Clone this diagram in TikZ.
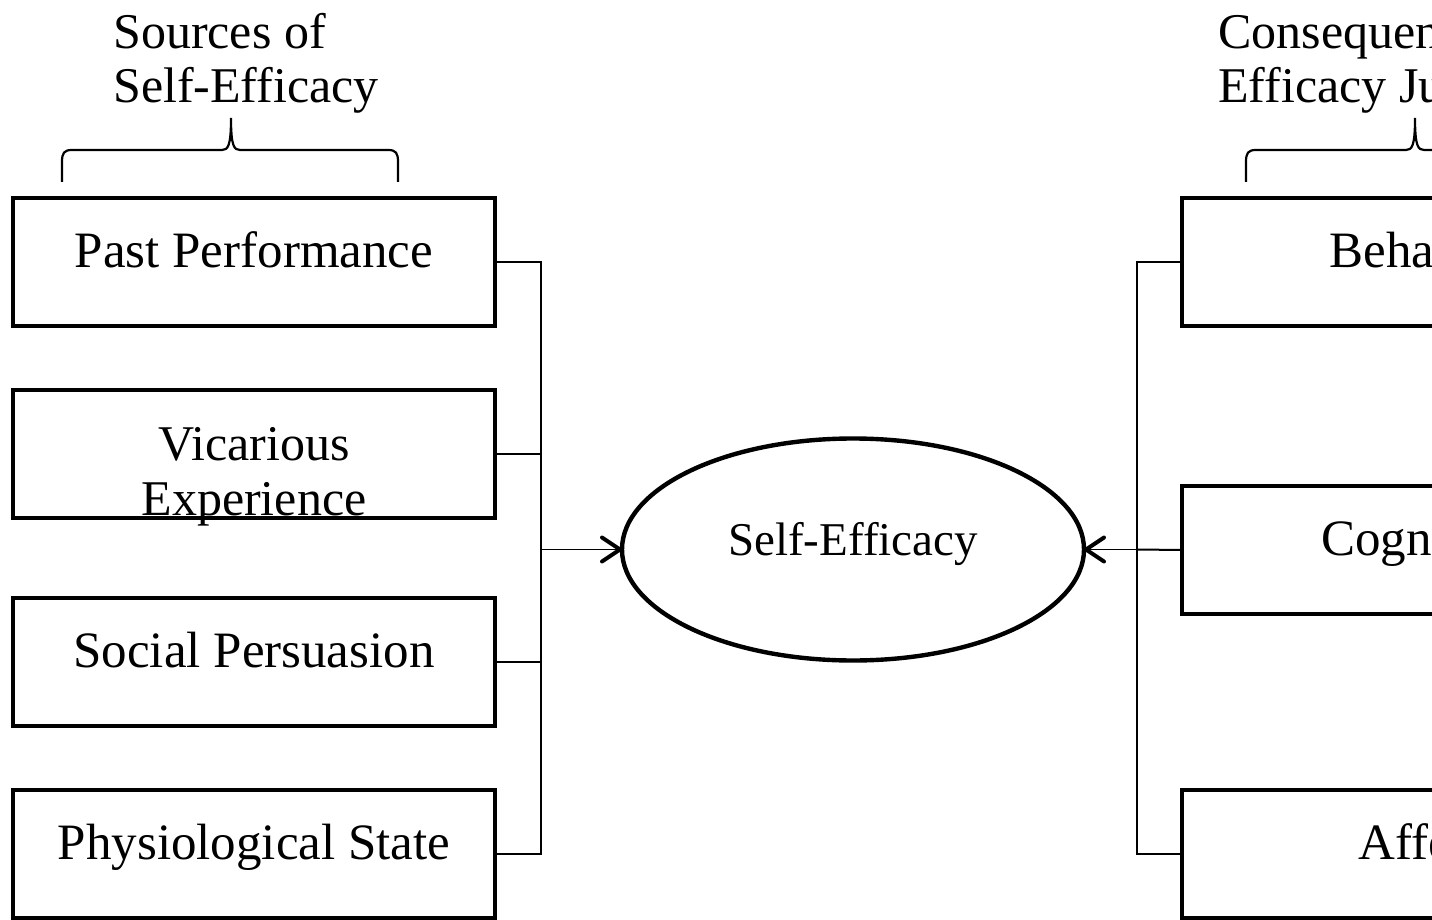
\documentclass[tikz,border=0pt]{standalone}
\usepackage{fontspec}
\setmainfont{Liberation Serif}
\usetikzlibrary{shapes.geometric,arrows.meta}
\begin{document}
\begin{tikzpicture}[x=1pt,y=-1pt,
  box/.style={draw, rectangle, line width=4.6pt, minimum width=482pt, minimum height=128pt,
    inner sep=0pt, outer sep=0pt, font=\fontsize{51}{55}\selectfont, text height=14pt, text depth=4pt},
  boxtext/.style={inner sep=0pt, align=center, font=\fontsize{50}{55}\selectfont},
  title/.style={inner sep=0pt, align=left, font=\fontsize{50}{54}\selectfont},
  centre/.style={draw, ellipse, line width=4.4pt, minimum width=462pt, minimum height=222pt,
    inner sep=0pt, outer sep=0pt, font=\fontsize{47}{52}\selectfont, text height=15pt, text depth=4pt},
  wire/.style={line width=2pt},
  arr/.style={line width=1.8pt, -{Straight Barb[length=18pt,width=24pt,line width=4pt,round]}},
  bracestyle/.style={line width=2.2pt}]
\useasboundingbox (0,0) rectangle (1432,920);
\fill[white] (0,0) rectangle (1432,920);
\clip (0,0) rectangle (1432,920);

% titles
\node[title, anchor=north west] (tl) at (113,13) {Sources of\\Self-Efficacy};
\node[title, anchor=north west] (tr) at (1218,13) {Consequences of Self-\\Efficacy Judgments};

% braces
\draw[bracestyle] (62,182) -- (62,162) .. controls (62,153) and (64,150) .. (72,150) -- (222,150)
  .. controls (228,150) and (231,146) .. (231,118) .. controls (231,146) and (234,150) .. (240,150)
  -- (388,150) .. controls (396,150) and (398,153) .. (398,162) -- (398,182);
\draw[bracestyle] (1246,182) -- (1246,162) .. controls (1246,153) and (1248,150) .. (1256,150) -- (1406,150)
  .. controls (1412,150) and (1415,146) .. (1415,118) .. controls (1415,146) and (1418,150) .. (1424,150)
  -- (1574,150) .. controls (1582,150) and (1584,153) .. (1584,162) -- (1584,182);

% left boxes
\node[box] (p1) at (254,262) {Past Performance};
\node[box] (p2) at (254,454) {};
\node[boxtext, anchor=north] (p2t) at (254,427) {Vicarious\\Experience};
\node[box] (p3) at (254,662) {Social Persuasion};
\node[box] (p4) at (254,854) {Physiological State};

% right boxes
\node[box] (c1) at (1423,262) {Behavior};
\node[box] (c2) at (1423,550) {Cognition};
\node[box] (c3) at (1423,854) {Affect};

% centre
\node[centre] (se) at (853,549.5) {Self-Efficacy};

% junctions
\coordinate (jl) at (541,549.5);
\coordinate (jr) at (1137,549.5);

% left connectors
\draw[wire] (p1.east) -| (jl);
\draw[wire] (p4.east) -| (jl);
\draw[wire] (p2.east) -- (p2.east -| jl);
\draw[wire] (p3.east) -- (p3.east -| jl);
\draw[arr] (jl) -- (se.west);

% right connectors
\draw[wire] (c1.west) -| (jr);
\draw[wire] (c3.west) -| (jr);
\draw[wire] (c2.west) -- (jr);
\draw[arr] (jr) -- (se.east);
\end{tikzpicture}
\end{document}
